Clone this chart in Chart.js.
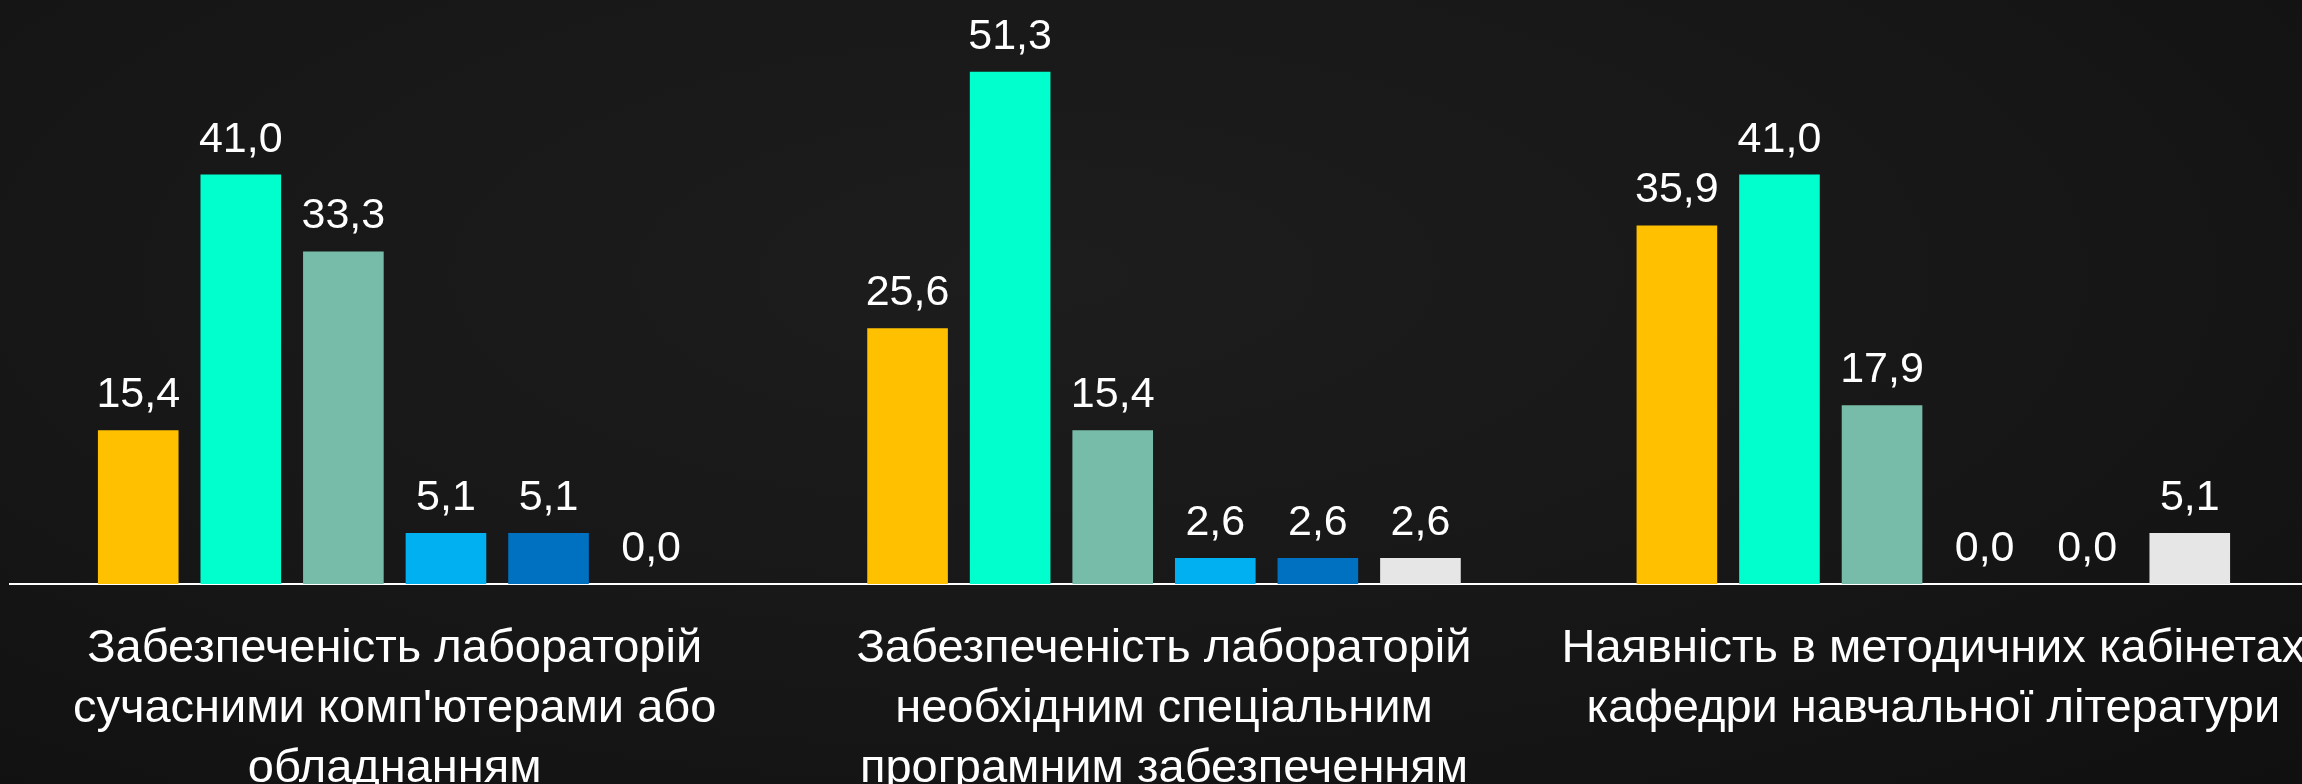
<!DOCTYPE html>
<html>
<head>
<meta charset="utf-8">
<script src="https://cdn.jsdelivr.net/npm/chart.js@4.4.1/dist/chart.umd.min.js"></script>
<style>
  html, body { margin: 0; padding: 0; overflow: hidden; width: 2302px; height: 784px; }
  body { background: radial-gradient(ellipse at 45% 35%, #1d1d1d 0%, #171717 55%, #101010 100%); }
  #wrap { position: absolute; left: 0; top: 0; width: 2318px; height: 784px; }
</style>
</head>
<body>
<div id="wrap"><canvas id="c" width="2318" height="784"></canvas></div>
<script>
// ---- data ----
const categories = [
  ["Забезпеченість лабораторій", "сучасними комп'ютерами або", "обладнанням"],
  ["Забезпеченість лабораторій", "необхідним спеціальним", "програмним забезпеченням"],
  ["Наявність в методичних кабінетах", "кафедри навчальної літератури"]
];
const seriesNames = ["Ряд 1", "Ряд 2", "Ряд 3", "Ряд 4", "Ряд 5", "Ряд 6"];
const series1 = [15.4, 25.6, 35.9];
const series2 = [41.0, 51.3, 41.0];
const series3 = [33.3, 15.4, 17.9];
const series4 = [5.1, 2.6, 0.0];
const series5 = [5.1, 2.6, 0.0];
const series6 = [0.0, 2.6, 5.1];
const seriesColors = ["#FFC000", "#00FFCC", "#77BCA9", "#00B0F0", "#0070C0", "#E6E6E6"];

const allSeries = [series1, series2, series3, series4, series5, series6];

const valueLabels = {
  id: 'valueLabels',
  afterDatasetsDraw(chart) {
    const ctx = chart.ctx;
    ctx.save();
    ctx.fillStyle = '#ffffff';
    ctx.font = '43px "Liberation Sans", Arial, sans-serif';
    ctx.textAlign = 'center';
    ctx.textBaseline = 'alphabetic';
    chart.data.datasets.forEach((ds, i) => {
      const meta = chart.getDatasetMeta(i);
      meta.data.forEach((bar, j) => {
        const v = ds.data[j];
        ctx.fillText(v.toFixed(1).replace('.', ','), bar.x, bar.y - 23);
      });
    });
    ctx.restore();
  }
};

new Chart(document.getElementById('c'), {
  type: 'bar',
  data: {
    labels: categories,
    datasets: allSeries.map((d, i) => ({
      label: seriesNames[i],
      data: d,
      backgroundColor: seriesColors[i],
      borderWidth: 0,
      categoryPercentage: 0.8,
      barPercentage: 0.786
    }))
  },
  options: {
    responsive: false,
    animation: false,
    devicePixelRatio: 1,
    layout: { padding: { left: 10, right: 0, top: 0, bottom: 0 } },
    plugins: { legend: { display: false }, tooltip: { enabled: false } },
    scales: {
      x: {
        grid: { display: false, drawTicks: false },
        border: { display: true, color: '#ffffff', width: 2 },
        ticks: {
          color: '#ffffff',
          font: { family: '"Liberation Sans", Arial, sans-serif', size: 47, lineHeight: 60 / 47 },
          padding: 35,
          autoSkip: false,
          maxRotation: 0,
          minRotation: 0
        },
        afterFit: (scale) => {
          scale.height = 200;
          scale.paddingLeft = 0;
          scale.paddingRight = 0;
        }
      },
      y: {
        display: false,
        min: 0,
        max: 58.48
      }
    }
  },
  plugins: [valueLabels]
});
</script>
</body>
</html>
